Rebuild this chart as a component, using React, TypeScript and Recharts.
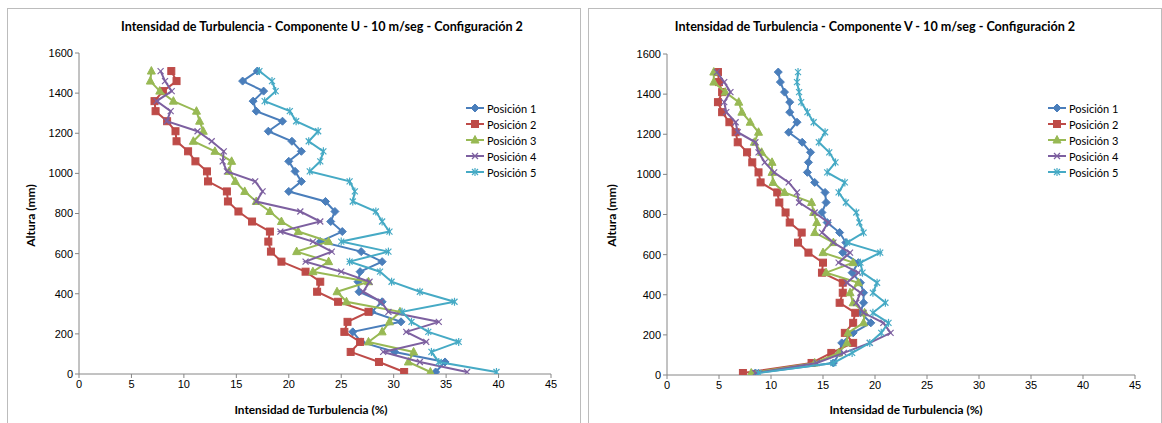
import React from 'react';
import { ScatterChart, Scatter, XAxis, YAxis } from 'recharts';

const heights = [10, 60, 110, 160, 210, 260, 310, 360, 410, 460, 510, 560, 610, 660, 710, 760, 810, 860, 910, 960, 1010, 1060, 1110, 1160, 1210, 1260, 1310, 1360, 1410, 1460, 1510];

// Componente U
const uPos1 = [34.0, 34.9, 30.1, 26.9, 26.1, 30.7, 27.9, 28.9, 26.7, 26.6, 26.8, 28.9, 26.9, 23.0, 25.1, 24.0, 24.4, 23.5, 20.0, 21.2, 20.6, 20.0, 21.2, 20.3, 18.05, 19.4, 16.9, 16.6, 17.6, 15.6, 17.0];
const uPos2 = [31.0, 28.6, 25.9, 26.8, 25.3, 25.6, 27.6, 24.7, 22.7, 23.0, 21.6, 19.3, 18.3, 18.05, 18.2, 16.5, 15.2, 14.2, 14.1, 12.3, 12.2, 11.1, 10.4, 9.3, 9.2, 8.4, 7.3, 7.2, 8.0, 9.3, 8.8];
const uPos3 = [33.5, 31.4, 31.9, 27.6, 28.9, 29.6, 30.6, 25.5, 24.6, 27.6, 22.3, 23.8, 20.75, 23.8, 20.9, 19.3, 18.2, 16.9, 15.8, 14.9, 14.3, 14.55, 12.96, 10.9, 11.85, 11.5, 11.2, 9.0, 7.7, 6.8, 6.9];
const uPos4 = [37.0, 32.5, 29.0, 33.1, 31.2, 34.3, 29.5, 28.8, 27.1, 27.7, 25.0, 21.6, 24.1, 22.3, 19.2, 23.0, 21.1, 16.9, 17.5, 16.8, 14.1, 13.7, 13.8, 12.65, 11.3, 8.36, 8.74, 7.4, 8.84, 8.2, 7.78];
const uPos5 = [39.8, 34.3, 33.6, 36.2, 33.3, 31.7, 30.8, 35.8, 32.5, 29.8, 28.7, 25.8, 29.5, 25.0, 29.6, 28.9, 28.3, 26.1, 26.3, 25.8, 22.0, 23.0, 23.3, 21.9, 22.8, 20.7, 20.1, 17.7, 18.75, 18.4, 17.2];

// Componente V
const vPos1 = [8.5, 16.0, 16.6, 16.8, 17.9, 19.6, 18.6, 18.9, 18.9, 18.6, 17.8, 18.4, 16.9, 17.2, 16.6, 15.4, 14.9, 15.3, 15.2, 14.2, 13.5, 13.6, 13.8, 13.0, 11.7, 12.5, 11.8, 11.8, 11.3, 10.9, 10.7];
const vPos2 = [7.3, 13.9, 15.8, 17.9, 17.1, 17.9, 18.1, 16.6, 16.9, 16.9, 14.9, 15.0, 13.6, 12.6, 12.95, 11.8, 11.4, 10.8, 10.6, 9.0, 8.8, 8.2, 7.7, 6.8, 6.6, 6.0, 5.3, 4.9, 5.3, 5.0, 4.9];
const vPos3 = [8.1, 14.2, 16.5, 17.3, 17.4, 18.9, 19.0, 17.9, 17.6, 18.4, 15.3, 17.9, 15.0, 16.0, 14.2, 14.4, 14.1, 13.9, 11.3, 10.2, 10.1, 10.1, 9.1, 8.4, 8.8, 8.0, 7.2, 6.9, 5.6, 4.5, 4.5];
const vPos4 = [8.5, 14.4, 17.0, 19.5, 21.5, 20.8, 18.9, 18.2, 18.6, 17.3, 18.4, 16.5, 17.6, 16.0, 14.9, 15.5, 14.2, 12.7, 12.5, 11.7, 10.3, 9.4, 8.8, 8.5, 6.8, 6.6, 5.7, 5.5, 6.1, 5.5, 4.8];
const vPos5 = [8.8, 16.0, 17.8, 19.5, 20.6, 21.3, 19.8, 21.0, 19.8, 20.2, 18.8, 18.6, 20.5, 17.3, 18.9, 18.5, 18.2, 17.2, 16.5, 17.1, 15.4, 16.2, 15.6, 14.6, 15.2, 14.1, 13.5, 12.9, 12.7, 12.5, 12.6];

const seriesNames = ['Posición 1', 'Posición 2', 'Posición 3', 'Posición 4', 'Posición 5'];
const seriesColors = ['#4A7EBB', '#BE4B48', '#98B954', '#7D60A0', '#46AAC5'];
const markers = ['diamond', 'square', 'triangle', 'x', 'star'];

const xTicks = [0, 5, 10, 15, 20, 25, 30, 35, 40, 45];
const yTicks = [0, 200, 400, 600, 800, 1000, 1200, 1400, 1600];

const TEXT_FONT = 'Lato, "Open Sans", sans-serif';
const TICK_FONT = '"Liberation Sans", Arial, sans-serif';
const AXIS_COLOR = '#868686';

function toPoints(values: number[]) {
  return heights.map((h, i) => ({ x: values[i], y: h }));
}

function Marker({ kind, cx, cy, color }: { kind: string; cx: number; cy: number; color: string }) {
  if (kind === 'diamond') {
    return <polygon points={`${cx},${cy - 4} ${cx + 4},${cy} ${cx},${cy + 4} ${cx - 4},${cy}`} fill={color} stroke={color} />;
  }
  if (kind === 'square') {
    return <rect x={cx - 3.5} y={cy - 3.5} width={7} height={7} fill={color} stroke={color} />;
  }
  if (kind === 'triangle') {
    return <polygon points={`${cx},${cy - 4.5} ${cx + 4},${cy + 3} ${cx - 4},${cy + 3}`} fill={color} stroke={color} />;
  }
  if (kind === 'x') {
    return (
      <g stroke={color} strokeWidth={1.2}>
        <line x1={cx - 3} y1={cy - 3} x2={cx + 3} y2={cy + 3} />
        <line x1={cx - 3} y1={cy + 3} x2={cx + 3} y2={cy - 3} />
      </g>
    );
  }
  return (
    <g stroke={color} strokeWidth={1.2}>
      <line x1={cx - 3} y1={cy - 3} x2={cx + 3} y2={cy + 3} />
      <line x1={cx - 3} y1={cy + 3} x2={cx + 3} y2={cy - 3} />
      <line x1={cx} y1={cy - 4} x2={cx} y2={cy + 4} />
    </g>
  );
}

function LegendBox({ left, top }: { left: number; top: number }) {
  return (
    <div style={{ position: 'absolute', left, top, fontFamily: TEXT_FONT, fontSize: 11, color: '#000' }}>
      {seriesNames.map((name, i) => (
        <div key={name} style={{ display: 'flex', alignItems: 'center', height: 16 }}>
          <svg width={20} height={10} style={{ marginRight: 2 }}>
            <line x1={1} y1={5} x2={19} y2={5} stroke={seriesColors[i]} strokeWidth={2} />
            <Marker kind={markers[i]} cx={10} cy={5} color={seriesColors[i]} />
          </svg>
          <span>{name}</span>
        </div>
      ))}
    </div>
  );
}

interface PanelProps {
  left: number;
  title: string;
  series: number[][];
  margin: { top: number; right: number; bottom: number; left: number };
  titleCenter: number;
  xLabelCenter: number;
  legendLeft: number;
}

function Panel({ left, title, series, margin, titleCenter, xLabelCenter, legendLeft }: PanelProps) {
  return (
    <>
      <div style={{ position: 'absolute', left: left - 1, top: 8, width: 574, height: 430, border: '1px solid #bcbcbc', boxSizing: 'border-box' }} />
      <div style={{ position: 'absolute', left: titleCenter - 300, top: 19, width: 600, textAlign: 'center', fontFamily: TEXT_FONT, fontWeight: 700, fontSize: 12.6, color: '#000' }}>
        {title}
      </div>
      <div style={{ position: 'absolute', left: left, top: 9 }}>
        <ScatterChart width={572} height={414} margin={margin}>
          <XAxis
            type="number"
            dataKey="x"
            domain={[0, 45]}
            ticks={xTicks}
            stroke={AXIS_COLOR}
            tick={{ fill: '#000', fontSize: 11, fontFamily: TICK_FONT }}
            tickSize={4}
            height={30}
            allowDataOverflow
          />
          <YAxis
            type="number"
            dataKey="y"
            domain={[0, 1600]}
            ticks={yTicks}
            stroke={AXIS_COLOR}
            tick={{ fill: '#000', fontSize: 11, fontFamily: TICK_FONT }}
            tickSize={4}
            width={51}
            allowDataOverflow
          />
          {series.map((vals, i) => (
            <Scatter
              key={seriesNames[i]}
              name={seriesNames[i]}
              data={toPoints(vals)}
              fill={seriesColors[i]}
              line={{ stroke: seriesColors[i], strokeWidth: 2 }}
              lineType="joint"
              isAnimationActive={false}
              shape={(p: any) => <Marker kind={markers[i]} cx={p.cx} cy={p.cy} color={seriesColors[i]} />}
            />
          ))}
        </ScatterChart>
      </div>
      <div style={{ position: 'absolute', left: left + 22 - 60, top: 208, width: 120, textAlign: 'center', transform: 'rotate(-90deg)', fontFamily: TEXT_FONT, fontWeight: 700, fontSize: 12, color: '#000' }}>
        Altura (mm)
      </div>
      <div style={{ position: 'absolute', left: xLabelCenter - 150, top: 402, width: 300, textAlign: 'center', fontFamily: TEXT_FONT, fontWeight: 700, fontSize: 11.8, color: '#000' }}>
        Intensidad de Turbulencia (%)
      </div>
      <LegendBox left={legendLeft} top={100} />
    </>
  );
}

export default function App() {
  return (
    <div style={{ position: 'absolute', left: 0, top: 0, width: 1162, height: 423, background: '#fff', overflow: 'hidden' }}>
      <Panel
        left={8}
        title="Intensidad de Turbulencia - Componente U - 10 m/seg - Configuración 2"
        series={[uPos1, uPos2, uPos3, uPos4, uPos5]}
        margin={{ top: 44, right: 29, bottom: 19, left: 20 }}
        titleCenter={322}
        xLabelCenter={311}
        legendLeft={465}
      />
      <Panel
        left={589}
        title="Intensidad de Turbulencia - Componente V - 10 m/seg - Configuración 2"
        series={[vPos1, vPos2, vPos3, vPos4, vPos5]}
        margin={{ top: 45, right: 26, bottom: 18, left: 27 }}
        titleCenter={875}
        xLabelCenter={906}
        legendLeft={1047}
      />
    </div>
  );
}
